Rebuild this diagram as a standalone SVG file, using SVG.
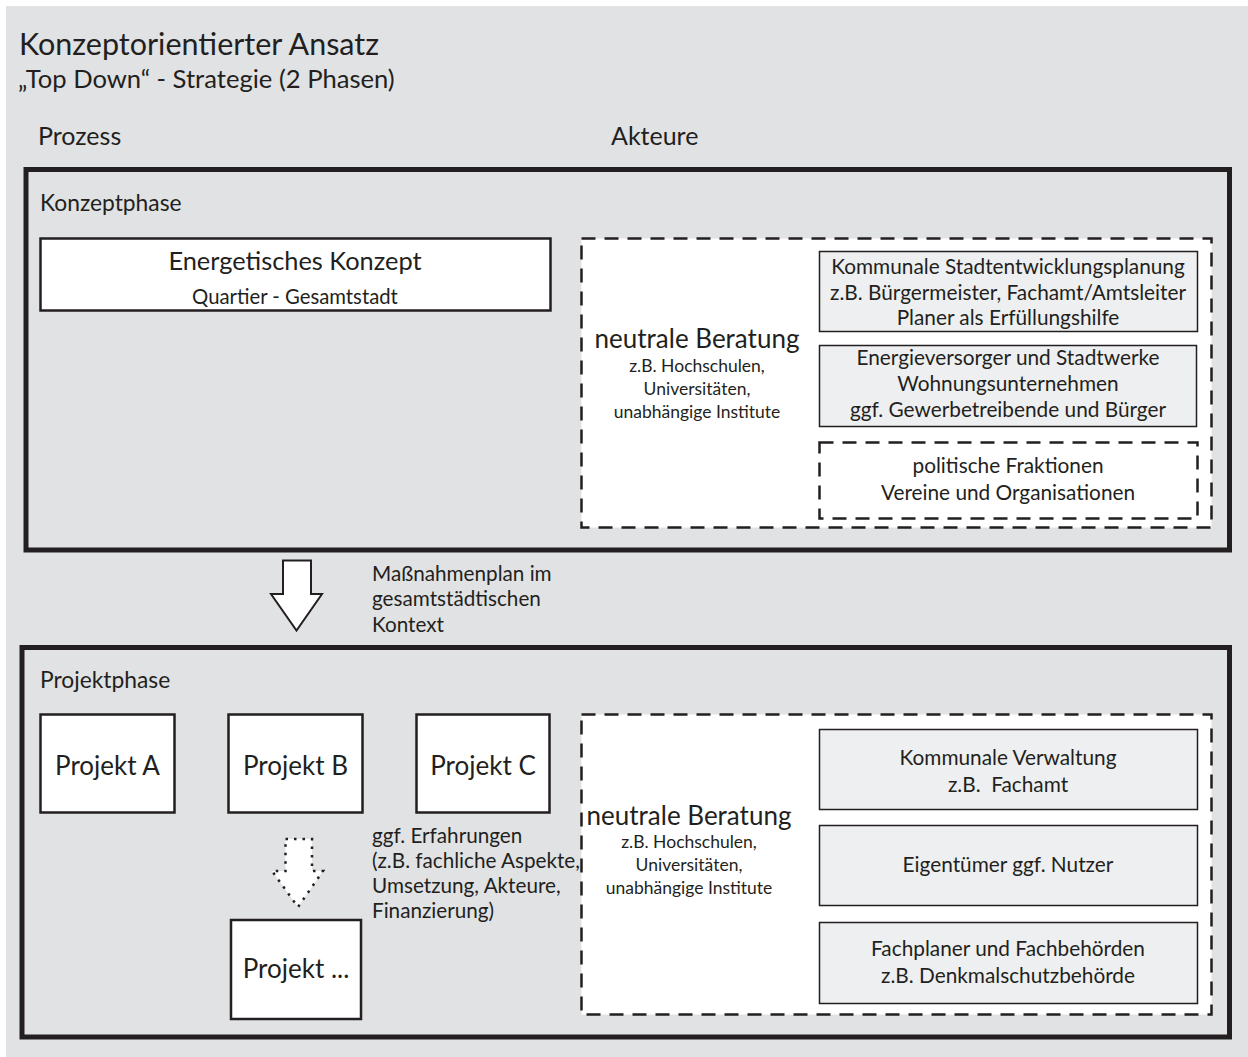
<svg xmlns="http://www.w3.org/2000/svg" width="1248" height="1057" viewBox="0 0 1248 1057">
<style>
text{font-family:Lato,"Open Sans","Liberation Sans",sans-serif;fill:#231f20}
.c{text-anchor:middle}
.phase{fill:none;stroke:#231f20;stroke-width:5}
.node{fill:#fff;stroke:#231f20;stroke-width:2.5}
.actor{fill:#eeeff0;stroke:#231f20;stroke-width:1.5}
.dash{fill:#fff;stroke:#231f20;stroke-width:2.5;stroke-dasharray:14 9}
.dashin{fill:none;stroke:#231f20;stroke-width:2.5;stroke-dasharray:14 9}
.box{font-size:20.8px}
.note{font-size:20.7px}
.sub{font-size:17.5px}
.nb{font-size:26px}
.proj{font-size:26px}
.ph{font-size:22.8px}
.hd{font-size:25px}
</style>
<rect x="0" y="0" width="1248" height="1057" fill="#fff"/>
<rect x="6" y="6" width="1242" height="1051" fill="#e1e2e4"/>
<g id="header">
<text x="19" y="55" font-size="30.5">Konzeptorientierter Ansatz</text>
<text x="18" y="88" font-size="25.6">„Top Down“ - Strategie (2 Phasen)</text>
<text class="hd" x="38" y="145">Prozess</text>
<text class="hd" x="611" y="145">Akteure</text>
</g>
<g id="konzeptphase">
<rect class="phase" x="26" y="169.5" width="1203.5" height="380.5"/>
<text class="ph" x="40" y="211">Konzeptphase</text>
</g>
<g id="energetisches-konzept">
<rect class="node" x="40.5" y="238.5" width="510" height="72"/>
<text class="c" x="295" y="270" font-size="25.4">Energetisches Konzept</text>
<text class="c" x="295" y="304" font-size="20.3">Quartier - Gesamtstadt</text>
</g>
<g id="akteure-konzept">
<rect class="dash" x="581.5" y="238.5" width="630" height="289"/>
<text class="c nb" x="697" y="348">neutrale Beratung</text>
<text class="c sub" x="697" y="372">z.B. Hochschulen,</text>
<text class="c sub" x="697" y="395">Universitäten,</text>
<text class="c sub" x="697" y="418">unabhängige Institute</text>
</g>
<g id="stadtentwicklung">
<rect class="actor" x="819.5" y="251.5" width="378" height="80"/>
<text class="c box" x="1008" y="274">Kommunale Stadtentwicklungsplanung</text>
<text class="c box" x="1008" y="300">z.B. Bürgermeister, Fachamt/Amtsleiter</text>
<text class="c box" x="1008" y="325">Planer als Erfüllungshilfe</text>
</g>
<g id="energieversorger">
<rect class="actor" x="819.5" y="345.5" width="377" height="81"/>
<text class="c box" x="1008" y="365">Energieversorger und Stadtwerke</text>
<text class="c box" x="1008" y="391">Wohnungsunternehmen</text>
<text class="c box" x="1008" y="417">ggf. Gewerbetreibende und Bürger</text>
</g>
<g id="politik">
<rect class="dashin" x="819.5" y="442.5" width="378" height="76"/>
<text class="c box" x="1008" y="473">politische Fraktionen</text>
<text class="c box" x="1008" y="500">Vereine und Organisationen</text>
</g>
<g id="connectors">
<path d="M283 560.5 H311 V594 H322 L296.5 630.5 L271 594 H283 Z" fill="#fff" stroke="#231f20" stroke-width="2"/>
<path d="M285.5 839 H312 V871 H323 L298 907 L272 871 H285.5 Z" fill="#fff" stroke="#231f20" stroke-width="2.5" stroke-dasharray="2.5 6"/>
<text class="note" x="372" y="581">Maßnahmenplan im</text>
<text class="note" x="372" y="606">gesamtstädtischen</text>
<text class="note" x="372" y="632">Kontext</text>
<text class="note" x="372" y="843">ggf. Erfahrungen</text>
<text class="note" x="372" y="868">(z.B. fachliche Aspekte,</text>
<text class="note" x="372" y="893">Umsetzung, Akteure,</text>
<text class="note" x="372" y="918">Finanzierung)</text>
</g>
<g id="projektphase">
<rect class="phase" x="22" y="647.5" width="1207.5" height="389.5"/>
<text class="ph" x="40" y="688">Projektphase</text>
</g>
<g id="projekt-a">
<rect class="node" x="40.5" y="714.5" width="134" height="98"/>
<text class="c proj" x="107.5" y="775">Projekt A</text>
</g>
<g id="projekt-b">
<rect class="node" x="228.5" y="714.5" width="134" height="98"/>
<text class="c proj" x="295.5" y="775">Projekt B</text>
</g>
<g id="projekt-c">
<rect class="node" x="416.5" y="714.5" width="133" height="98"/>
<text class="c proj" x="483" y="775">Projekt C</text>
</g>
<g id="projekt-weitere">
<rect class="node" x="231" y="920" width="130" height="99"/>
<text class="c proj" x="296" y="978">Projekt ...</text>
</g>
<g id="akteure-projekt">
<rect class="dash" x="581.5" y="714.5" width="630" height="300"/>
<text class="c nb" x="689" y="825">neutrale Beratung</text>
<text class="c sub" x="689" y="848">z.B. Hochschulen,</text>
<text class="c sub" x="689" y="871">Universitäten,</text>
<text class="c sub" x="689" y="894">unabhängige Institute</text>
</g>
<g id="verwaltung">
<rect class="actor" x="819.5" y="729.5" width="378" height="80"/>
<text class="c box" x="1008" y="765">Kommunale Verwaltung</text>
<text class="c box" x="1008" y="792" xml:space="preserve">z.B.  Fachamt</text>
</g>
<g id="eigentuemer">
<rect class="actor" x="819.5" y="825.5" width="378" height="80"/>
<text class="c box" x="1008" y="872">Eigentümer ggf. Nutzer</text>
</g>
<g id="fachplaner">
<rect class="actor" x="819.5" y="922.5" width="378" height="81"/>
<text class="c box" x="1008" y="956">Fachplaner und Fachbehörden</text>
<text class="c box" x="1008" y="983">z.B. Denkmalschutzbehörde</text>
</g>
</svg>
